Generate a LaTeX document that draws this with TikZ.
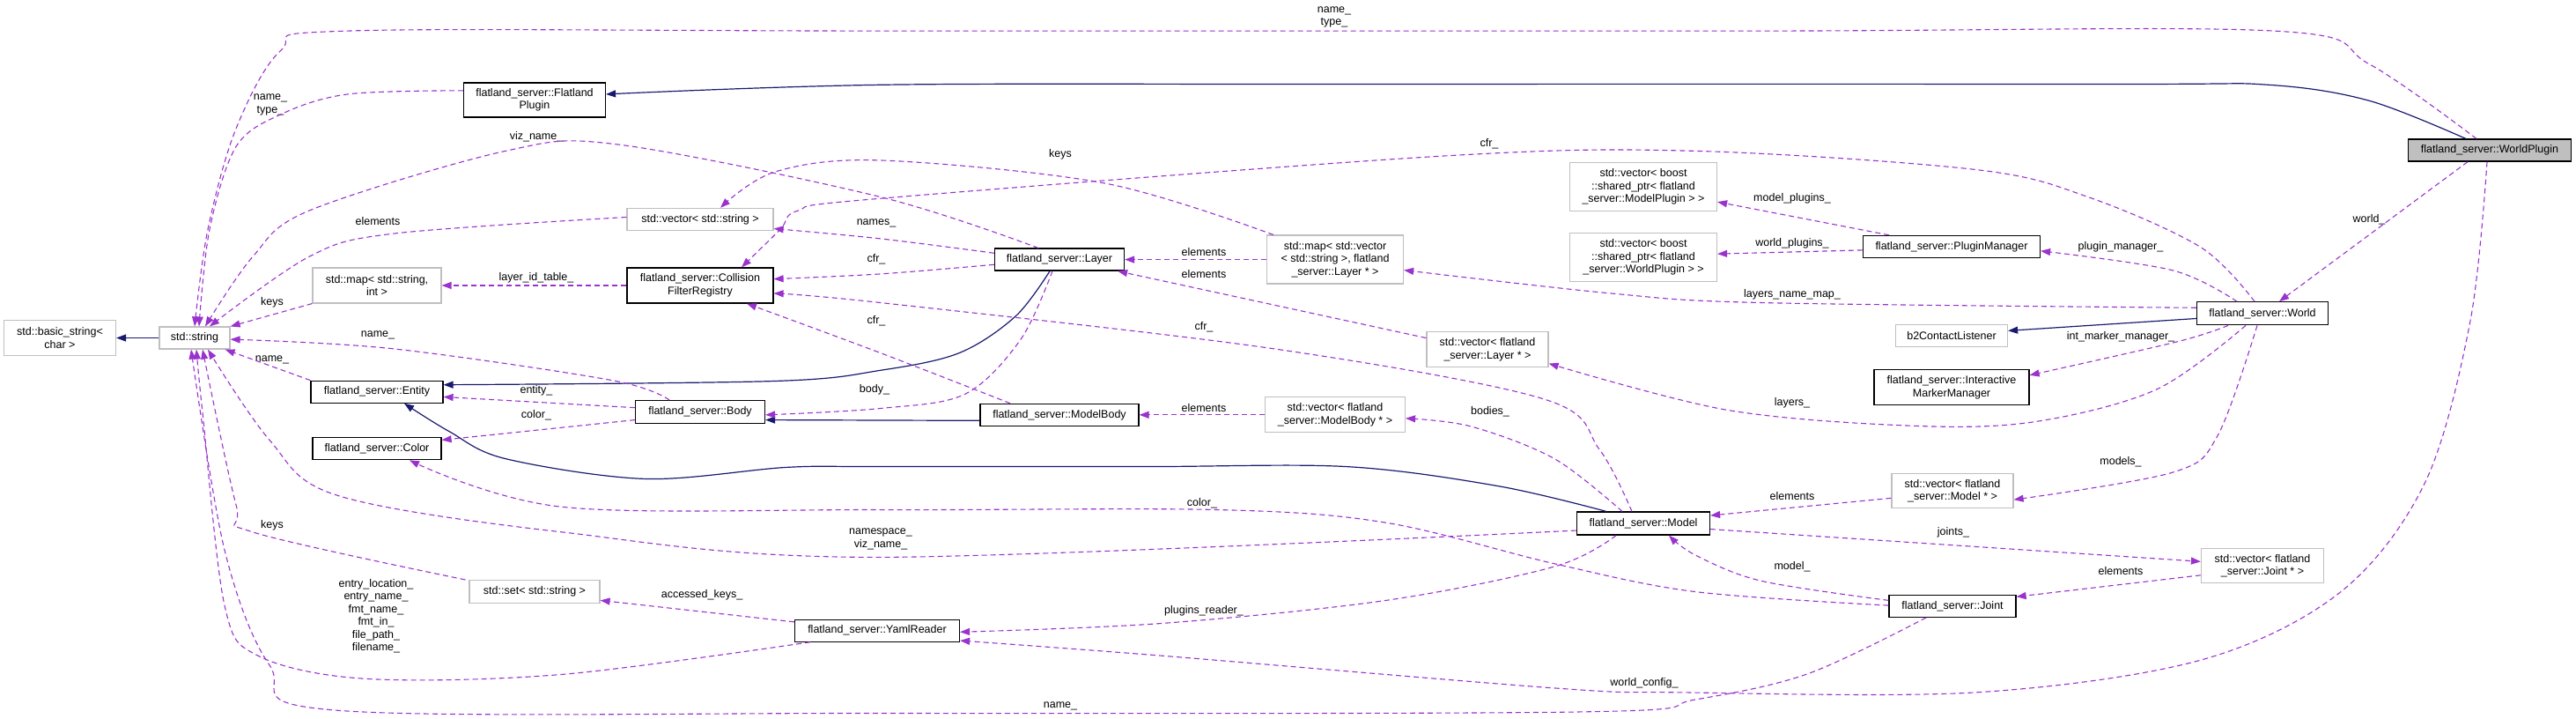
\documentclass[tikz,border=0pt]{standalone}
\usepackage{fontspec}
\setmainfont{Liberation Sans}
\usetikzlibrary{arrows.meta}
\definecolor{purp}{HTML}{9A32CD}
\definecolor{navy}{HTML}{191970}
\definecolor{gbord}{HTML}{BFBFBF}
\begin{document}
\begin{tikzpicture}[x=1pt,y=-0.816pt,
  font=\fontsize{12.5}{14.5}\selectfont,
  box/.style={draw, rectangle, inner sep=0pt, align=center, line width=1.2pt},
  gbox/.style={draw=gbord, rectangle, inner sep=0pt, align=center, line width=1.2pt},
  lbl/.style={inner sep=0pt, align=center},
  dep/.style={draw=purp, line width=1.1pt, dash pattern=on 6pt off 4pt, -{Triangle[length=11pt,width=8pt,fill=purp]}},
  inh/.style={draw=navy, line width=1.2pt, -{Triangle[length=11pt,width=8pt,fill=navy]}},
  sm/.style={smooth, tension=0.55}]
\useasboundingbox (0,0) rectangle (2925,1000);
% nodes
\node[gbox, minimum width=127, minimum height=40] (bs) at (68,470) {std::basic\_string<\\char >};
\node[gbox, minimum width=80, minimum height=25] (str) at (221,470) {std::string};
\node[box, minimum width=161, minimum height=39] (fp) at (607,139) {flatland\_server::Flatland\\Plugin};
\node[gbox, minimum width=166, minimum height=25] (vs) at (795,305) {std::vector< std::string >};
\node[gbox, minimum width=146, minimum height=40] (msi) at (428,397) {std::map< std::string,\\int >};
\node[box, minimum width=166, minimum height=40] (cfr) at (795,397) {flatland\_server::Collision\\FilterRegistry};
\node[box, minimum width=150, minimum height=25] (ent) at (428,545) {flatland\_server::Entity};
\node[box, minimum width=147, minimum height=26] (body) at (795,573) {flatland\_server::Body};
\node[box, minimum width=146, minimum height=25] (col) at (428,624) {flatland\_server::Color};
\node[gbox, minimum width=148, minimum height=26] (set) at (607,823) {std::set< std::string >};
\node[box, minimum width=187, minimum height=25] (yaml) at (996,877) {flatland\_server::YamlReader};
\node[box, minimum width=147, minimum height=25] (layer) at (1203,361) {flatland\_server::Layer};
\node[gbox, minimum width=155, minimum height=55] (mvl) at (1516,361) {std::map< std::vector\\< std::string >, flatland\\\_server::Layer * >};
\node[gbox, minimum width=167, minimum height=55] (vmp) at (1866,260) {std::vector< boost\\::shared\_ptr< flatland\\\_server::ModelPlugin > >};
\node[gbox, minimum width=167, minimum height=55] (vwp) at (1866,358) {std::vector< boost\\::shared\_ptr< flatland\\\_server::WorldPlugin > >};
\node[gbox, minimum width=138, minimum height=40] (vl) at (1689,486) {std::vector< flatland\\\_server::Layer * >};
\node[box, minimum width=180, minimum height=25] (mb) at (1203,577) {flatland\_server::ModelBody};
\node[gbox, minimum width=159, minimum height=40] (vmb) at (1516,577) {std::vector< flatland\\\_server::ModelBody * >};
\node[box, minimum width=151, minimum height=26] (model) at (1866,728) {flatland\_server::Model};
\node[box, fill=gbord, minimum width=185, minimum height=25] (wp) at (2827,209) {flatland\_server::WorldPlugin};
\node[box, minimum width=201, minimum height=25] (pm) at (2216,343) {flatland\_server::PluginManager};
\node[box, minimum width=149, minimum height=26] (world) at (2569,436) {flatland\_server::World};
\node[gbox, minimum width=127, minimum height=25] (b2) at (2216,467) {b2ContactListener};
\node[box, minimum width=176, minimum height=40] (imm) at (2216,539) {flatland\_server::Interactive\\MarkerManager};
\node[gbox, minimum width=138, minimum height=39] (vm) at (2217,683) {std::vector< flatland\\\_server::Model * >};
\node[gbox, minimum width=139, minimum height=39] (vj) at (2569,787) {std::vector< flatland\\\_server::Joint * >};
\node[box, minimum width=144, minimum height=25] (joint) at (2217,843) {flatland\_server::Joint};
% labels
\node[lbl] (l1) at (1515,24) {name\_\\type\_};
\node[lbl] (l2) at (307,146) {name\_\\type\_};
\node[lbl] (l3) at (609,190) {viz\_name\_};
\node[lbl] (l4) at (429,308) {elements};
\node[lbl] (l5) at (609,386) {layer\_id\_table\_};
\node[lbl] (l6) at (309,421) {keys};
\node[lbl] (l7) at (429,466) {name\_};
\node[lbl] (l8) at (309,501) {name\_};
\node[lbl] (l9) at (609,543) {entity\_};
\node[lbl] (l10) at (609,578) {color\_};
\node[lbl] (l11) at (309,731) {keys};
\node[lbl] (l12) at (427,857) {entry\_location\_\\entry\_name\_\\fmt\_name\_\\fmt\_in\_\\file\_path\_\\filename\_};
\node[lbl] (l13) at (797,827) {accessed\_keys\_};
\node[lbl] (l14) at (1000,750) {namespace\_\\viz\_name\_};
\node[lbl] (l15) at (995,310) {names\_};
\node[lbl] (l16) at (995,361) {cfr\_};
\node[lbl] (l17) at (995,446) {cfr\_};
\node[lbl] (l18) at (993,542) {body\_};
\node[lbl] (l19) at (1204,215) {keys};
\node[lbl] (l20) at (1691,200) {cfr\_};
\node[lbl] (l21) at (1367,351) {elements};
\node[lbl] (l22) at (1367,381) {elements};
\node[lbl] (l23) at (1367,455) {cfr\_};
\node[lbl] (l24) at (1367,567) {elements};
\node[lbl] (l25) at (1692,573) {bodies\_};
\node[lbl] (l26) at (1365,700) {color\_};
\node[lbl] (l27) at (1367,849) {plugins\_reader\_};
\node[lbl] (l28) at (1867,950) {world\_config\_};
\node[lbl] (l29) at (1204,982) {name\_};
\node[lbl] (l30) at (2035,276) {model\_plugins\_};
\node[lbl] (l31) at (2035,338) {world\_plugins\_};
\node[lbl] (l32) at (2408,343) {plugin\_manager\_};
\node[lbl] (l33) at (2035,410) {layers\_name\_map\_};
\node[lbl] (l34) at (2408,469) {int\_marker\_manager\_};
\node[lbl] (l35) at (2035,560) {layers\_};
\node[lbl] (l36) at (2690,305) {world\_};
\node[lbl] (l37) at (2408,642) {models\_};
\node[lbl] (l38) at (2035,690) {elements};
\node[lbl] (l39) at (2218,740) {joints\_};
\node[lbl] (l40) at (2035,788) {model\_};
\node[lbl] (l41) at (2408,794) {elements};
% inheritance
\draw[inh] (str.west) -- (bs.east);
\draw[inh] plot[sm] coordinates {([xshift=-27pt]wp.north) (2690,140) (2576,118) (2400,117) (1500,117) (1000,118) ([yshift=6.5pt]fp.east)};
\draw[inh] plot[sm] coordinates {([xshift=-11pt]layer.south) (1153,440) (1089,491) (1000,515) (880,530) ([yshift=8pt]ent.east)};
\draw[inh] plot[sm] coordinates {([xshift=-42pt]model.north) (1701,676) (1529,649) (1300,649) (1000,649) (893,650) (733,666) (574,638) (510,600) ([xshift=31pt]ent.south)};
\draw[inh] ([yshift=-6.5pt]mb.west) -- ([yshift=-9pt]body.east);
\draw[inh] ([yshift=-5.7pt]world.west) -- ([yshift=5.7pt]b2.east);
% dependencies
\draw[dep] plot[sm] coordinates {([xshift=-15pt]wp.north) (2690,89) (2582,43) (2000,43) (1000,43) (395,43) (319,70) (268,179) (236,319) (str.north)};
\draw[dep] plot[sm] coordinates {([yshift=10.6pt]fp.west) (395,131) (319,159) (268,204) (238,319) ([xshift=5pt]str.north)};
\draw[dep] plot[sm] coordinates {([xshift=-24pt]layer.north) (1000,274) (702,201) (574,210) (351,293) (287,357) ([xshift=12pt]str.north)};
\draw[dep] plot[sm] coordinates {([yshift=2.4pt]vs.west) (446,325) (351,357) ([xshift=17pt]str.north)};
\draw[dep] (msi.south west) -- (str.north east);
\draw[dep] (cfr.west) -- (msi.east);
\draw[dep] (ent.north west) -- ([xshift=-6pt]str.south east);
\draw[dep] plot[sm] coordinates {([xshift=-35pt]body.north) (695,529) (446,485) ([yshift=-1.6pt]str.east)};
\draw[dep] ([yshift=4.9pt]body.west) -- ([yshift=-5.7pt]ent.east);
\draw[dep] ([yshift=-9pt]body.west) -- ([yshift=9.8pt]col.east);
\draw[dep] plot[sm] coordinates {([xshift=-70pt]mvl.north) (1255,255) (1000,223) (880,239) ([xshift=23pt]vs.north)};
\draw[dep] plot[sm] coordinates {([xshift=-9pt]world.north) (2499,344) (2371,274) (2244,236) (1925,210) (1638,217) (1000,276) (906,293) (886,319) ([xshift=47pt]cfr.north)};
\draw[dep] plot[sm] coordinates {([yshift=7.3pt]layer.west) (1000,332) ([yshift=-10.6pt]vs.east)};
\draw[dep] plot[sm] coordinates {([yshift=-5.7pt]layer.west) (1000,381) ([yshift=7.3pt]cfr.east)};
\draw[dep] plot[sm] coordinates {([xshift=-13pt]model.north) (1816,625) (1753,555) (1446,485) (1000,421) ([yshift=-9pt]cfr.east)};
\draw[dep] plot[sm] coordinates {([xshift=-56pt]mb.north) (1000,491) ([xshift=53pt]cfr.south)};
\draw[dep] plot[sm] coordinates {([xshift=-8pt]layer.south) (1159,472) (1096,548) (1000,568) ([yshift=-3.3pt]body.east)};
\draw[dep] (mvl.west) -- (layer.east);
\draw[dep] ([yshift=13pt]vl.west) -- ([xshift=-8pt]layer.south east);
\draw[dep] (vmb.west) -- (mb.east);
\draw[dep] plot[sm] coordinates {([xshift=-24pt]model.north) (1765,638) (1670,593) ([yshift=-4pt]vmb.east)};
\draw[dep] plot[sm] coordinates {([yshift=6.5pt]world.west) (2000,421) (1829,408) ([yshift=-12pt]mvl.east)};
\draw[dep] ([xshift=-71pt]pm.north) -- ([yshift=-17pt]vmp.east);
\draw[dep] ([yshift=-4pt]pm.west) -- ([yshift=4pt]vwp.east);
\draw[dep] plot[sm] coordinates {([xshift=-29pt]world.north) (2467,376) ([yshift=-4.9pt]pm.east)};
\draw[dep] plot[sm] coordinates {([xshift=-39pt]world.south) (2473,475) ([yshift=14pt]imm.east)};
\draw[dep] plot[sm] coordinates {([xshift=-19pt]world.south) (2448,542) (2308,587) (2167,592) (1960,570) ([yshift=-16pt]vl.east)};
\draw[dep] plot[sm] coordinates {([xshift=-6pt]world.south) (2518,606) (2467,657) ([yshift=-9.8pt]vm.east)};
\draw[dep] ([xshift=-25pt]wp.south) -- ([xshift=19pt]world.north);
\draw[dep] ([yshift=-8pt]vm.west) -- ([yshift=9pt]model.east);
\draw[dep] ([yshift=-6.5pt]model.east) -- ([yshift=4.9pt]vj.west);
\draw[dep] ([yshift=-10.6pt]vj.west) -- ([yshift=10.6pt]joint.east);
\draw[dep] plot[sm] coordinates {([yshift=6.5pt]joint.west) (2000,808) (1925,772) ([xshift=29pt]model.south)};
\draw[dep] plot[sm] coordinates {([yshift=0.8pt]joint.west) (1925,823) (1765,784) (1574,727) (1383,709) (1000,709) (638,705) ([xshift=37pt]col.south)};
\draw[dep] plot[sm] coordinates {([yshift=-8pt]model.west) (1000,775) (638,740) (383,689) (306,612) ([xshift=15pt]str.south)};
\draw[dep] plot[sm] coordinates {([xshift=-31pt]model.south) (1765,788) (1574,835) (1319,867) ([yshift=-1.6pt]yaml.east)};
\draw[dep] plot[sm] coordinates {([xshift=-3pt]wp.south) (2805,446) (2754,670) (2658,823) (2499,918) (2244,963) (1906,963) (1765,957) (1319,912) ([yshift=-11.4pt]yaml.east)};
\draw[dep] plot[sm] coordinates {([xshift=-76pt]yaml.south) (638,938) (415,944) (293,912) (255,842) (230,574) ([xshift=2pt]str.south)};
\draw[dep] plot[sm] coordinates {([xshift=-30pt]joint.south) (2053,937) (1925,973) (1800,990) (1000,992) (383,988) (306,925) (255,765) ([xshift=-4pt]str.south)};
\draw[dep] ([yshift=9.8pt]yaml.west) -- ([yshift=-9.8pt]set.east);
\draw[dep] plot[sm] coordinates {([xshift=-4pt]set.north west) (287,740) (268,702) ([xshift=9pt]str.south)};
\end{tikzpicture}
\end{document}
